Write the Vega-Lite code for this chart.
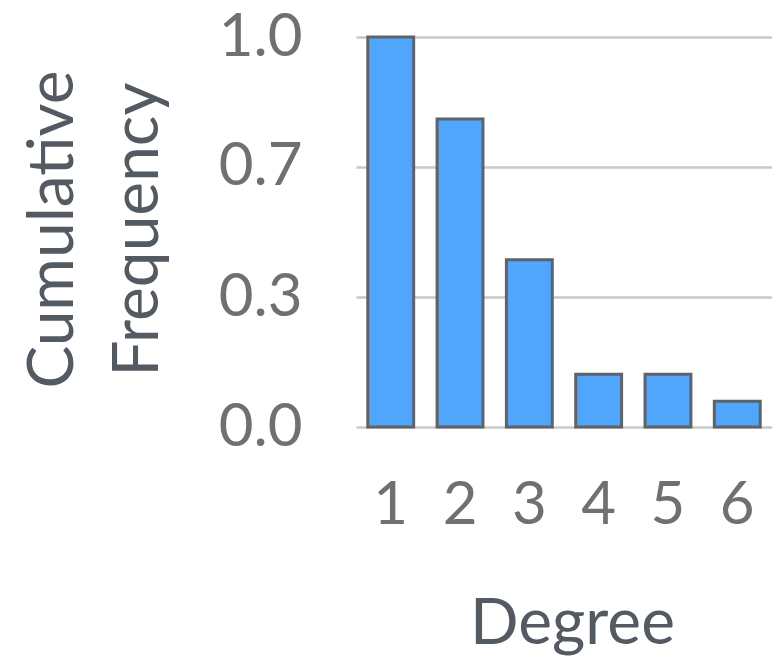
{
  "$schema": "https://vega.github.io/schema/vega-lite/v6.json",
  "width": 416,
  "height": 390,
  "autosize": {"type": "none"},
  "padding": {"left": 356, "top": 37, "right": 0, "bottom": 231},
  "background": "white",
  "data": {
    "values": [
      {"degree": "1", "freq": 1.0},
      {"degree": "2", "freq": 0.79},
      {"degree": "3", "freq": 0.429},
      {"degree": "4", "freq": 0.135},
      {"degree": "5", "freq": 0.135},
      {"degree": "6", "freq": 0.066}
    ]
  },
  "mark": {"type": "bar", "fill": "#4FA6FC", "stroke": "#5f6266", "strokeWidth": 3},
  "encoding": {
    "x": {
      "field": "degree",
      "type": "ordinal",
      "scale": {"paddingInner": 0.338, "paddingOuter": 0.17},
      "axis": {
        "title": "Degree",
        "labelAngle": 0,
        "labelFont": "Lato",
        "labelFontSize": 60,
        "labelColor": "#707070",
        "labelPadding": 49,
        "ticks": false,
        "domain": false,
        "titleFont": "Lato",
        "titleFontSize": 64,
        "titleFontWeight": "normal",
        "titleColor": "#545a61",
        "titleX": 216,
        "titleY": 216,
        "titleBaseline": "alphabetic"
      }
    },
    "y": {
      "field": "freq",
      "type": "quantitative",
      "scale": {"domain": [0, 1], "nice": false},
      "axis": {
        "title": ["Cumulative", "Frequency"],
        "values": [0, 0.33333, 0.66667, 1],
        "format": ".1f",
        "labelFont": "Lato",
        "labelFontSize": 60,
        "labelColor": "#707070",
        "labelPadding": 54,
        "ticks": false,
        "domain": false,
        "grid": true,
        "gridColor": "#c8c8c8",
        "gridWidth": 2.5,
        "titleFont": "Lato",
        "titleFontSize": 64,
        "titleFontWeight": "normal",
        "titleColor": "#545a61",
        "titleLineHeight": 85,
        "titleX": -284,
        "titleY": 192,
        "titleBaseline": "alphabetic",
        "titleAlign": "center",
        "titleAngle": -90
      }
    }
  },
  "config": {"view": {"stroke": null}}
}
